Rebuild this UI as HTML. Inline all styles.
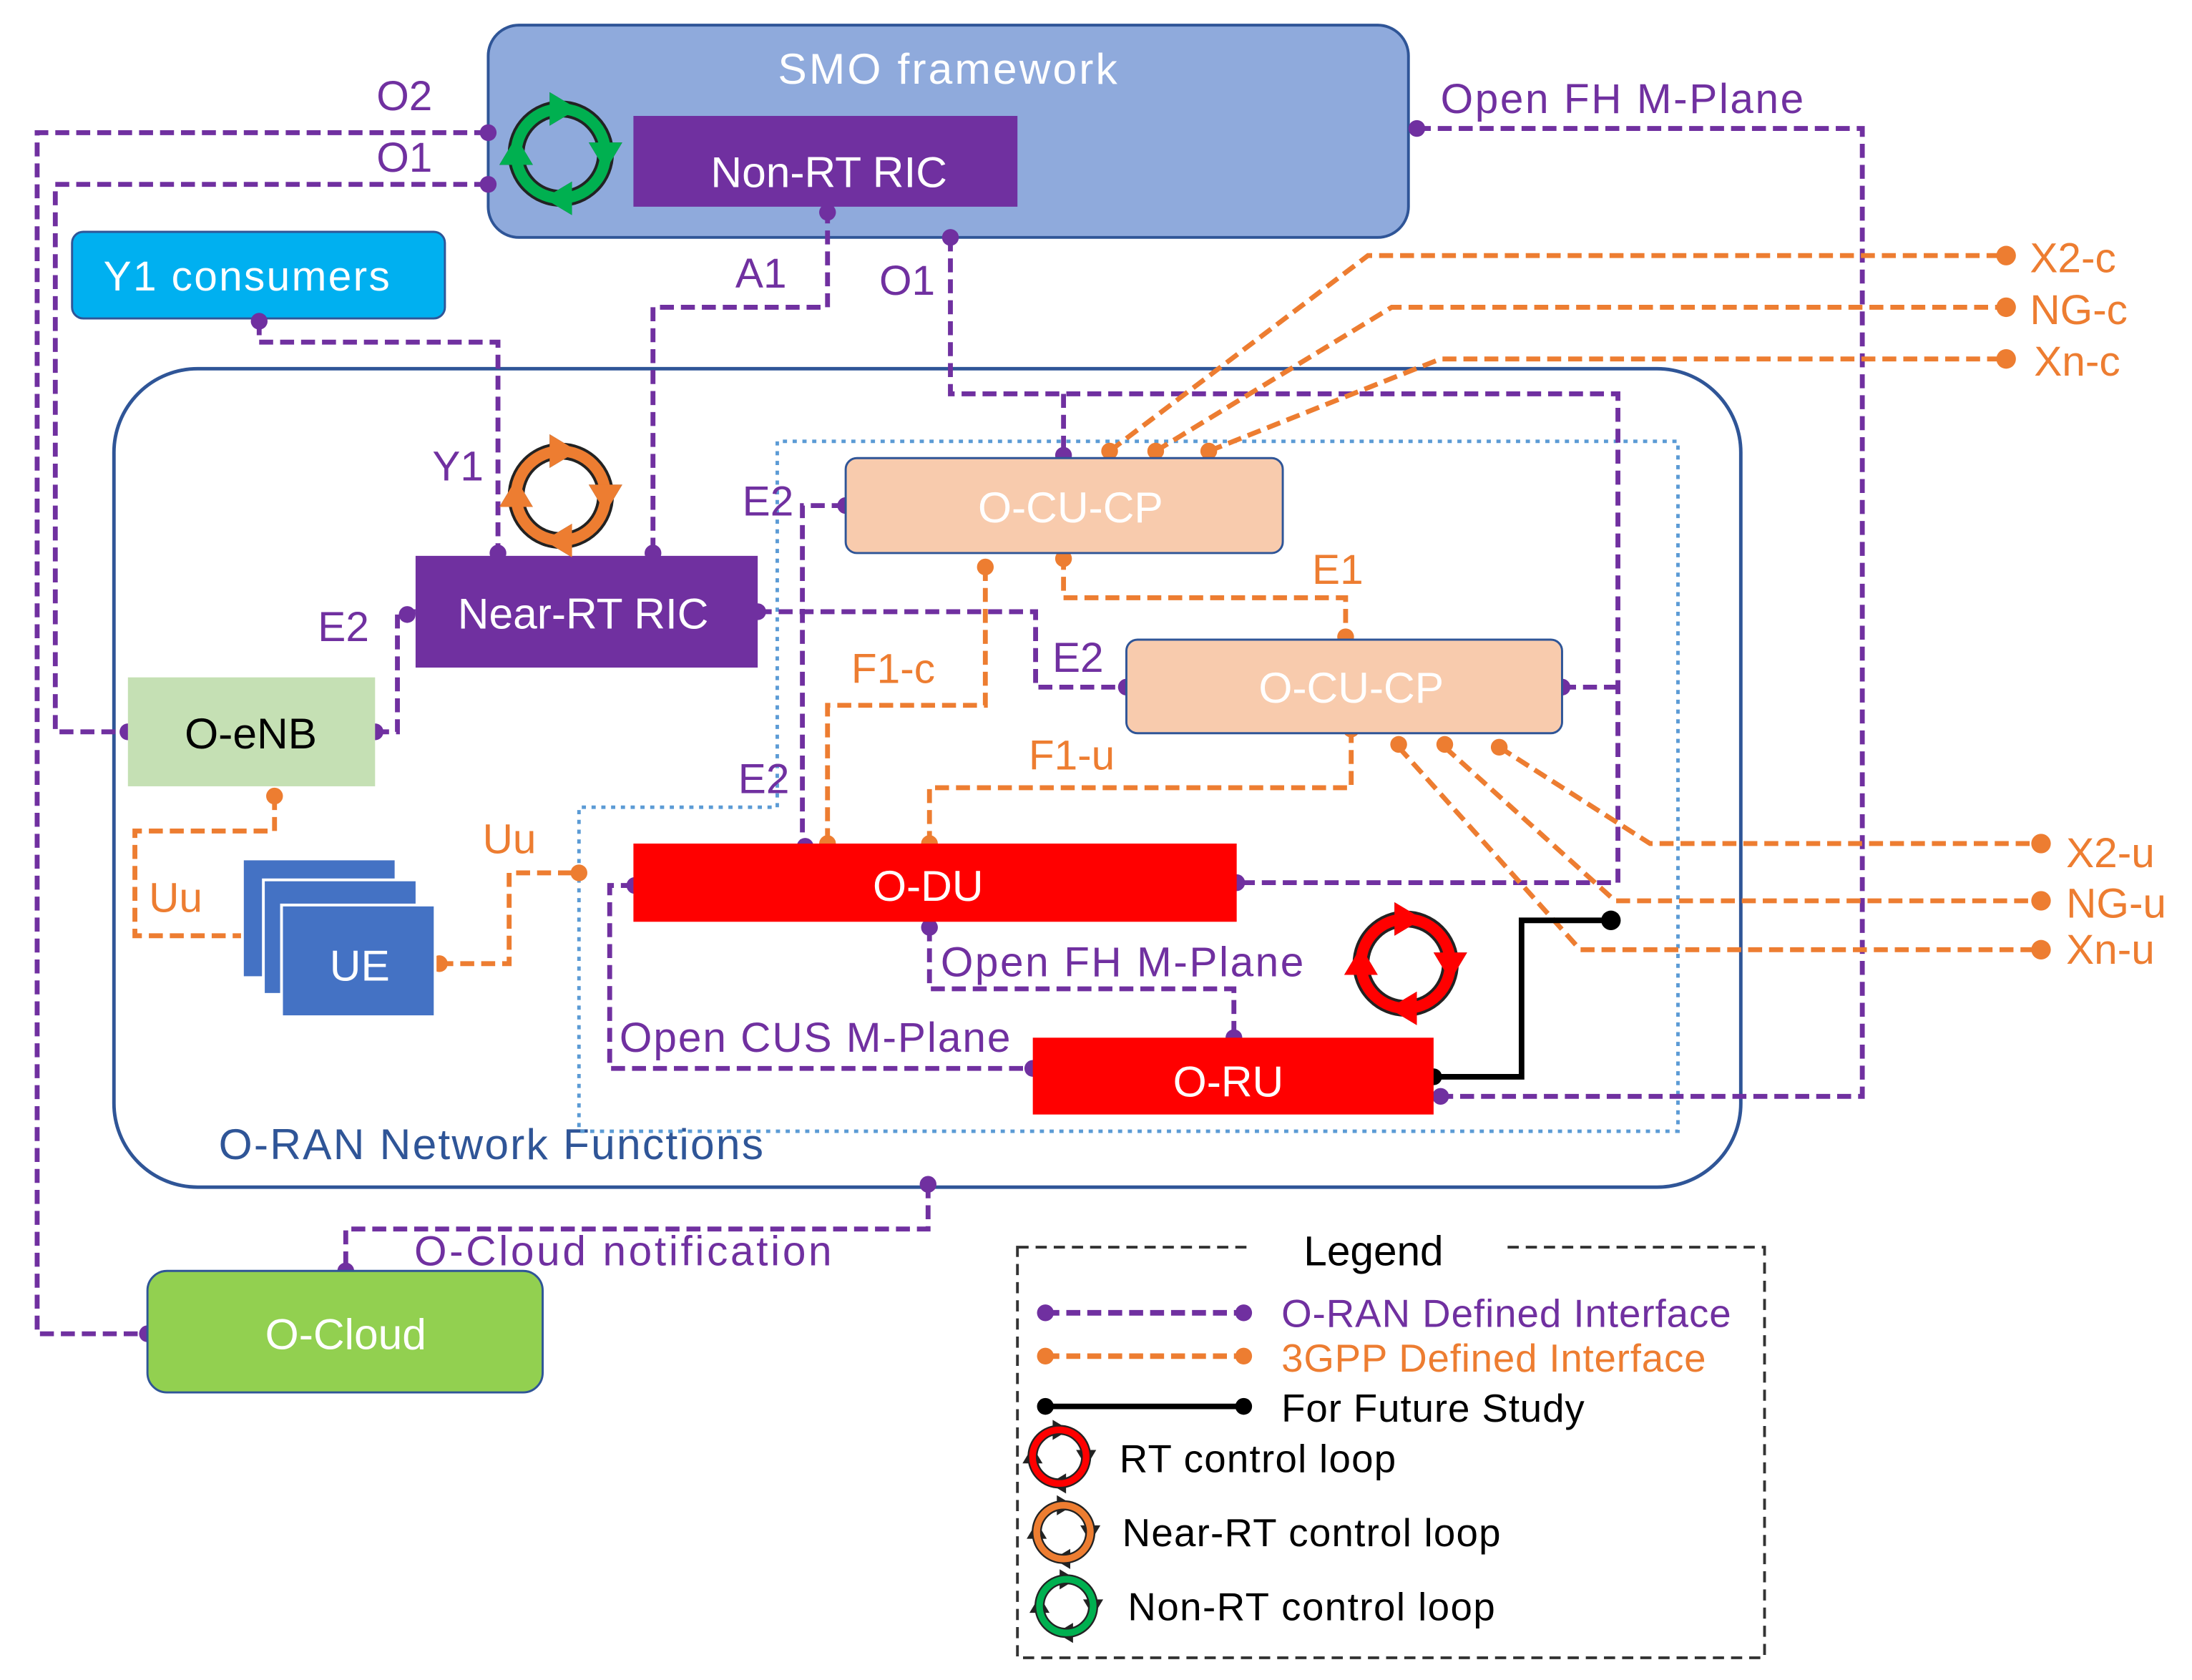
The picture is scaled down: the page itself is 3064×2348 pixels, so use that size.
<!DOCTYPE html>
<html><head><style>html,body{margin:0;padding:0;background:#fff}svg{display:block}</style></head>
<body>
<svg width="3064" height="2348" viewBox="-1.6 0 1569.7 1202.9" preserveAspectRatio="none" xmlns="http://www.w3.org/2000/svg" font-family="Liberation Sans, sans-serif">
<defs>
<g id="loop">
 <circle cx="0" cy="0" r="32" fill="none" stroke="#222" stroke-width="12"/>
 <polygon points="-8,-44 12,-32 -8,-20" fill="#222"/>
 <polygon points="44,-8 32,12 20,-8" fill="#222"/>
 <polygon points="8,44 -12,32 8,20" fill="#222"/>
 <polygon points="-44,8 -32,-12 -20,8" fill="#222"/>
</g>
</defs>
<rect x="-10" y="-10" width="1600" height="1220" fill="#fff"/>

<rect x="80" y="264" width="1165" height="586" rx="60" fill="none" stroke="#2f5597" stroke-width="2.5"/>
<text x="155" y="830" font-size="31" fill="#2f5597" textLength="390">O-RAN Network Functions</text>
<polyline points="555,578 555,316 1200,316 1200,810 413,810 413,578 555,578" fill="none" stroke="#5b9bd5" stroke-width="2.5" stroke-dasharray="3,4"/>

<rect x="348" y="18" width="659" height="152" rx="22" fill="#8faadc" stroke="#2f5597" stroke-width="2"/>
<text x="677" y="60" font-size="31" fill="#fff" text-anchor="middle" textLength="243">SMO framework</text>
<rect x="452" y="83" width="275" height="65" fill="#7030a0"/>
<text x="592" y="134" font-size="31" fill="#fff" text-anchor="middle">Non-RT RIC</text>
<g transform="translate(400,110)"><use href="#loop"/><circle r="32" fill="none" stroke="#00b050" stroke-width="8"/><polygon points="-8,-44 12,-32 -8,-20" fill="#00b050"/><polygon points="44,-8 32,12 20,-8" fill="#00b050"/><polygon points="8,44 -12,32 8,20" fill="#00b050"/><polygon points="-44,8 -32,-12 -20,8" fill="#00b050"/></g>

<rect x="50" y="166" width="267" height="62" rx="8" fill="#00b0f0" stroke="#2f5597" stroke-width="1.5"/>
<text x="175" y="208" font-size="30" fill="#fff" text-anchor="middle" textLength="205">Y1 consumers</text>

<g fill="none" stroke="#7030a0" stroke-width="3.5" stroke-dasharray="10,5">
 <polyline points="348,95 25,95 25,955 104,955"/>
 <polyline points="348,132 38,132 38,524 90,524"/>
 <polyline points="591,150 591,220 466,220 466,398"/>
 <polyline points="184,230 184,245 355,245 355,398"/>
 <polyline points="679,170 679,282 1157,282 1157,632 884,632"/>
 <polyline points="760,282 760,326"/>
 <polyline points="1117,492 1157,492"/>
 <polyline points="1013,92 1332,92 1332,785 1030,785"/>
 <polyline points="541,438 740,438 740,492 805,492"/>
 <polyline points="604,362 573,362 573,606"/>
 <polyline points="267,524 283,524 283,438 296,438"/>
 <polyline points="664,664 664,708 882,708 882,743"/>
 <polyline points="453,634 435,634 435,765 738,765"/>
 <polyline points="663,848 663,880 246,880 246,910"/>
</g>
<g fill="#7030a0">
 <circle cx="348" cy="95" r="6"/><circle cx="348" cy="132" r="6"/><circle cx="104" cy="955" r="6"/><circle cx="90" cy="524" r="6"/>
 <circle cx="591" cy="152" r="6"/><circle cx="466" cy="396" r="6"/><circle cx="184" cy="230" r="6"/><circle cx="355" cy="396" r="6"/>
 <circle cx="679" cy="170" r="6"/><circle cx="760" cy="326" r="6"/><circle cx="884" cy="632" r="6"/><circle cx="1117" cy="492" r="6"/>
 <circle cx="1013" cy="92" r="6"/><circle cx="1030" cy="785" r="6"/><circle cx="541" cy="438" r="6"/><circle cx="805" cy="492" r="6"/>
 <circle cx="604" cy="362" r="6"/><circle cx="575" cy="606" r="6"/><circle cx="267" cy="524" r="6"/><circle cx="290" cy="440" r="6"/>
 <circle cx="664" cy="664" r="6"/><circle cx="882" cy="743" r="6"/><circle cx="453" cy="634" r="6"/><circle cx="738" cy="765" r="6"/>
 <circle cx="663" cy="848" r="6"/><circle cx="246" cy="910" r="6"/>
</g>

<g fill="none" stroke="#ed7d31" stroke-width="3.5" stroke-dasharray="10,5">
 <polyline points="704,406 704,505 591,505 591,604"/>
 <polyline points="760,398 760,428 962,428 962,456"/>
 <polyline points="966,522 966,564 664,564 664,604"/>
 <polyline points="195,570 195,595 95,595 95,670 188,670"/>
 <polyline points="313,690 363,690 363,625 413,625"/>
 <polyline points="793,323 978,183 1435,183"/>
 <polyline points="826,323 995,220 1435,220"/>
 <polyline points="864,323 1030,257 1435,257"/>
 <polyline points="1072,535 1180,604 1460,604"/>
 <polyline points="1033,535 1155,645 1460,645"/>
 <polyline points="1000,535 1130,680 1460,680"/>
</g>
<g fill="#ed7d31">
 <circle cx="704" cy="406" r="6"/><circle cx="591" cy="604" r="6"/><circle cx="760" cy="400" r="6"/><circle cx="962" cy="456" r="6"/>
 <circle cx="966" cy="522" r="6"/><circle cx="664" cy="604" r="6"/><circle cx="195" cy="570" r="6"/><circle cx="188" cy="670" r="6"/>
 <circle cx="313" cy="690" r="6"/><circle cx="413" cy="625" r="6"/>
 <circle cx="793" cy="323" r="6"/><circle cx="826" cy="323" r="6"/><circle cx="864" cy="323" r="6"/>
 <circle cx="1435" cy="183" r="7"/><circle cx="1435" cy="220" r="7"/><circle cx="1435" cy="257" r="7"/>
 <circle cx="1000" cy="533" r="6"/><circle cx="1033" cy="533" r="6"/><circle cx="1072" cy="535" r="6"/>
 <circle cx="1460" cy="604" r="7"/><circle cx="1460" cy="645" r="7"/><circle cx="1460" cy="680" r="7"/>
</g>

<polyline points="1025,771 1088,771 1088,659 1152,659" fill="none" stroke="#000" stroke-width="4"/>
<circle cx="1025" cy="771" r="6"/><circle cx="1152" cy="659" r="7"/>

<rect x="604" y="328" width="313" height="68" rx="8" fill="#f8cbad" stroke="#2f5597" stroke-width="1.5"/>
<text x="765" y="374" font-size="31" fill="#fff" text-anchor="middle">O-CU-CP</text>
<rect x="805" y="458" width="312" height="67" rx="8" fill="#f8cbad" stroke="#2f5597" stroke-width="1.5"/>
<text x="966" y="503" font-size="31" fill="#fff" text-anchor="middle">O-CU-CP</text>
<rect x="296" y="398" width="245" height="80" fill="#7030a0"/>
<text x="416" y="450" font-size="31" fill="#fff" text-anchor="middle">Near-RT RIC</text>
<rect x="90" y="485" width="177" height="78" fill="#c5e0b4"/>
<text x="178" y="536" font-size="31" fill="#000" text-anchor="middle">O-eNB</text>
<rect x="172" y="615" width="110" height="85" fill="#4472c4" stroke="#fff" stroke-width="2"/>
<rect x="187" y="630" width="110" height="82" fill="#4472c4" stroke="#fff" stroke-width="2"/>
<rect x="200" y="648" width="110" height="80" fill="#4472c4" stroke="#fff" stroke-width="2"/>
<text x="256" y="702" font-size="31" fill="#fff" text-anchor="middle">UE</text>
<rect x="452" y="604" width="432" height="56" fill="#ff0000"/>
<text x="663" y="645" font-size="31" fill="#fff" text-anchor="middle">O-DU</text>
<rect x="738" y="743" width="287" height="55" fill="#ff0000"/>
<text x="878" y="785" font-size="31" fill="#fff" text-anchor="middle">O-RU</text>
<rect x="104" y="910" width="283" height="87" rx="14" fill="#92d050" stroke="#2f5597" stroke-width="1.5"/>
<text x="246" y="966" font-size="31" fill="#fff" text-anchor="middle">O-Cloud</text>

<g transform="translate(400,355)"><use href="#loop"/><circle r="32" fill="none" stroke="#ed7d31" stroke-width="8"/><polygon points="-8,-44 12,-32 -8,-20" fill="#ed7d31"/><polygon points="44,-8 32,12 20,-8" fill="#ed7d31"/><polygon points="8,44 -12,32 8,20" fill="#ed7d31"/><polygon points="-44,8 -32,-12 -20,8" fill="#ed7d31"/></g>
<g transform="translate(1005,690)"><use href="#loop"/><circle r="32" fill="none" stroke="#ff0000" stroke-width="8"/><polygon points="-8,-44 12,-32 -8,-20" fill="#ff0000"/><polygon points="44,-8 32,12 20,-8" fill="#ff0000"/><polygon points="8,44 -12,32 8,20" fill="#ff0000"/><polygon points="-44,8 -32,-12 -20,8" fill="#ff0000"/></g>

<g font-size="30" fill="#7030a0">
 <text x="268" y="79">O2</text><text x="268" y="123">O1</text>
 <text x="525" y="206">A1</text><text x="628" y="211">O1</text><text x="308" y="344">Y1</text>
 <text x="1030" y="81" textLength="260">Open FH M-Plane</text>
 <text x="530" y="369">E2</text><text x="226" y="459">E2</text><text x="752" y="481">E2</text><text x="527" y="568">E2</text>
 <text x="672" y="699" textLength="260">Open FH M-Plane</text><text x="442" y="753" textLength="280">Open CUS M-Plane</text>
 <text x="295" y="906" textLength="299">O-Cloud notification</text>
</g>
<g font-size="30" fill="#ed7d31">
 <text x="938" y="418">E1</text><text x="608" y="489">F1-c</text><text x="735" y="551">F1-u</text>
 <text x="105" y="653">Uu</text><text x="344" y="611">Uu</text>
 <text x="1452" y="195">X2-c</text><text x="1452" y="232">NG-c</text><text x="1455" y="269">Xn-c</text>
 <text x="1478" y="621">X2-u</text><text x="1478" y="657">NG-u</text><text x="1478" y="690">Xn-u</text>
</g>

<rect x="727" y="893" width="535" height="294" fill="none" stroke="#333" stroke-width="2" stroke-dasharray="8,5"/>
<rect x="895" y="878" width="180" height="30" fill="#fff"/>
<text x="982" y="906" font-size="30" fill="#000" text-anchor="middle">Legend</text>
<line x1="747" y1="940" x2="889" y2="940" stroke="#7030a0" stroke-width="4" stroke-dasharray="10,5"/>
<circle cx="747" cy="940" r="6" fill="#7030a0"/><circle cx="889" cy="940" r="6" fill="#7030a0"/>
<text x="916" y="950" font-size="28" fill="#7030a0" textLength="322">O-RAN Defined Interface</text>
<line x1="747" y1="971" x2="889" y2="971" stroke="#ed7d31" stroke-width="4" stroke-dasharray="10,5"/>
<circle cx="747" cy="971" r="6" fill="#ed7d31"/><circle cx="889" cy="971" r="6" fill="#ed7d31"/>
<text x="916" y="982" font-size="28" fill="#ed7d31" textLength="304">3GPP Defined Interface</text>
<line x1="747" y1="1007" x2="889" y2="1007" stroke="#000" stroke-width="4"/>
<circle cx="747" cy="1007" r="6"/><circle cx="889" cy="1007" r="6"/>
<text x="916" y="1018" font-size="28" fill="#000" textLength="217">For Future Study</text>
<g transform="translate(757,1043) scale(0.6)"><use href="#loop"/><circle r="32" fill="none" stroke="#ff0000" stroke-width="8"/></g>
<text x="800" y="1054" font-size="28" textLength="198">RT control loop</text>
<g transform="translate(760,1097) scale(0.6)"><use href="#loop"/><circle r="32" fill="none" stroke="#ed7d31" stroke-width="8"/></g>
<text x="802" y="1107" font-size="28" textLength="271">Near-RT control loop</text>
<g transform="translate(762,1150) scale(0.6)"><use href="#loop"/><circle r="32" fill="none" stroke="#00b050" stroke-width="8"/></g>
<text x="806" y="1160" font-size="28" textLength="263">Non-RT control loop</text>
</svg>
</body></html>
